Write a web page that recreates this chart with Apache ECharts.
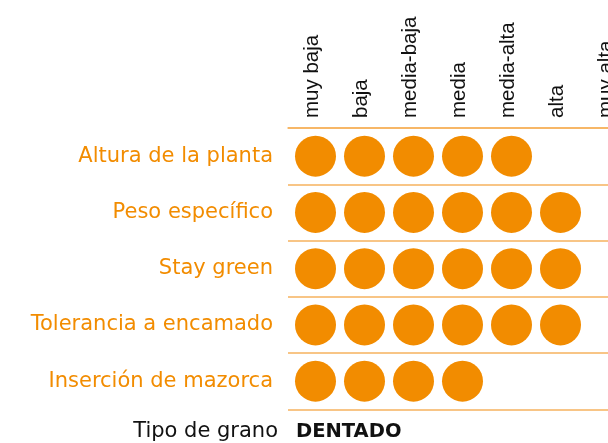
<!DOCTYPE html>
<html>
<head>
<meta charset="utf-8">
<script src="https://cdn.jsdelivr.net/npm/echarts@6/dist/echarts.min.js"></script>
<style>html,body{margin:0;padding:0;background:#fff}#c{width:608px;height:443px}</style>
</head>
<body>
<div id="c"></div>
<script>
// Column categories (levels)
var levels = ['muy baja', 'baja', 'media-baja', 'media', 'media-alta', 'alta', 'muy alta'];
// Row attributes
var traits = ['Altura de la planta', 'Peso específico', 'Stay green', 'Tolerancia a encamado', 'Inserción de mazorca'];
// Number of filled circles per attribute (level reached)
var scores = [5, 6, 6, 6, 4];
// Grain type
var grainLabel = 'Tipo de grano';
var grainType = 'DENTADO';

var points = [];
traits.forEach(function (t, r) {
  for (var i = 0; i < scores[r]; i++) points.push([levels[i], t]);
});

var orange = '#F28C00';
var lineCol = '#F6B25E';
var chart = echarts.init(document.getElementById('c'));
chart.setOption({
  animation: false,
  grid: { left: 288, top: 128, width: 343, height: 281.25, outerBoundsMode: 'none', containLabel: false },
  xAxis: {
    type: 'category', data: levels, position: 'top',
    axisLine: { show: true, lineStyle: { color: lineCol, width: 1.5 } },
    axisTick: { show: false },
    splitLine: { show: false },
    axisLabel: { rotate: -90, margin: 10, color: '#111', fontFamily: 'Liberation Sans', fontSize: 20.5, interval: 0 }
  },
  yAxis: {
    type: 'category', data: traits, inverse: true,
    axisLine: { show: false }, axisTick: { show: false },
    splitLine: { show: true, lineStyle: { color: lineCol, width: 1.5 } },
    axisLabel: { margin: 15, color: orange, fontFamily: 'DejaVu Sans', fontSize: 21, interval: 0 }
  },
  series: [{
    type: 'scatter', data: points, symbol: 'circle', symbolSize: 41, symbolOffset: [3, 0],
    itemStyle: { color: orange, opacity: 1 }
  }],
  graphic: [
    { type: 'text', right: 608 - 278, top: 421, style: { text: grainLabel, fill: '#111', font: '21px "DejaVu Sans"', textAlign: 'right' } },
    { type: 'text', left: 296, top: 422, style: { text: grainType, fill: '#111', font: 'bold 19.5px "DejaVu Sans"' } }
  ]
});
</script>
</body>
</html>
